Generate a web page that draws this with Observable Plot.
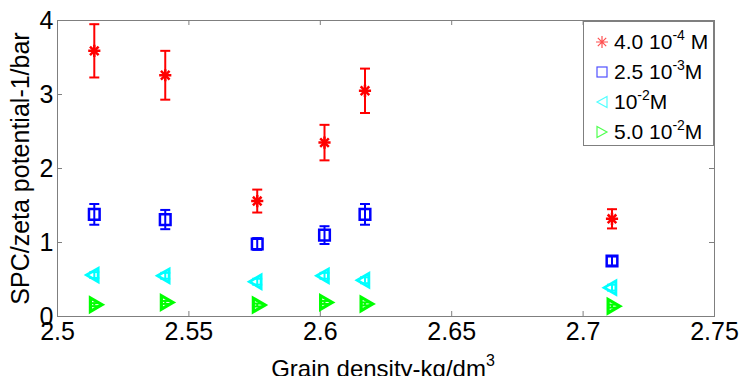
<!DOCTYPE html>
<html>
<head>
<meta charset="utf-8">
<script src="https://cdn.jsdelivr.net/npm/d3@7"></script>
<script src="https://cdn.jsdelivr.net/npm/@observablehq/plot@0.6"></script>
<style>
  html, body { margin: 0; padding: 0; background: #fff; }
  #wrap { position: relative; width: 740px; height: 376px; overflow: hidden; font-family: "Liberation Sans", Arial, sans-serif; }
  #legend { position: absolute; left: 583px; top: 21px; width: 129px; height: 123px; border: 1px solid #7f7f7f; background: #fff; }
  .row { position: absolute; left: 0; height: 24px; display: flex; align-items: center; font-size: 21px; color: #000; white-space: nowrap; }
  .row svg { margin-left: 11px; margin-right: 5px; }
  sup { font-size: 14px; vertical-align: 9px; line-height: 0; }
  #xlabel { position: absolute; left: 0; width: 766px; top: 355px; text-align: center; font-size: 24px; color: #000; white-space: nowrap; }
  #xlabel sup { font-size: 16px; vertical-align: 11px; }
</style>
</head>
<body>
<div id="wrap"></div>
<script>
// ---- data ----
const density = [2.514, 2.541, 2.576, 2.6016, 2.617, 2.711];
const spc4e4 = [3.59, 3.26, 1.56, 2.35, 3.05, 1.32];
const err4e4 = [0.36, 0.33, 0.155, 0.24, 0.30, 0.13];
const spc25e3 = [1.38, 1.31, 0.98, 1.10, 1.38, 0.75];
const err25e3 = [0.14, 0.13, 0.08, 0.12, 0.14, 0.06];
const spc1e2 = [0.56, 0.55, 0.47, 0.55, 0.49, 0.39];
const err1e2 = [0.04, 0.04, 0.04, 0.04, 0.04, 0.04];
const spc5e2 = [0.16, 0.19, 0.155, 0.19, 0.17, 0.14];
const err5e2 = [0.02, 0.02, 0.02, 0.02, 0.02, 0.02];
const xTicks = [2.5, 2.55, 2.6, 2.65, 2.7, 2.75];
const yTicks = [0, 1, 2, 3, 4];
const seriesNames = ["4.0 10-4 M", "2.5 10-3M", "10-2M", "5.0 10-2M"];

const colors = ["#ff0000", "#0000ff", "#00ffff", "#00ff00"];
const allVals = [spc4e4, spc25e3, spc1e2, spc5e2];
const allErrs = [err4e4, err25e3, err1e2, err5e2];
const rows = [];
allVals.forEach((vals, s) => vals.forEach((v, i) => rows.push({s, x: density[i], y: v, lo: v - allErrs[s][i], hi: v + allErrs[s][i]})));

const cap = { draw(ctx) { ctx.moveTo(-5, 0); ctx.lineTo(5, 0); } };
const xDom = [2.5, 2.75], yDom = [0, 4];
const tx = (xDom[1] - xDom[0]) * 5 / 657, ty = (yDom[1] - yDom[0]) * 5 / 296;

const bySeries = s => rows.filter(d => d.s === s);

const marks = [
  Plot.frame({stroke: "#7f7f7f"}),
  Plot.ruleX(xTicks, {x: d => d, y1: yDom[0], y2: yDom[0] + ty, stroke: "#7f7f7f"}),
  Plot.ruleX(xTicks, {x: d => d, y1: yDom[1] - ty, y2: yDom[1], stroke: "#7f7f7f"}),
  Plot.ruleY(yTicks, {y: d => d, x1: xDom[0], x2: xDom[0] + tx, stroke: "#7f7f7f"}),
  Plot.ruleY(yTicks, {y: d => d, x1: xDom[1] - tx, x2: xDom[1], stroke: "#7f7f7f"}),
  Plot.axisX(xTicks, {anchor: "bottom", tickSize: 0, tickPadding: 6, label: null, tickFormat: d => String(d)}),
  Plot.axisY(yTicks, {anchor: "left", tickSize: 0, tickPadding: 4, label: "SPC/zeta potential-1/bar", labelAnchor: "center", labelOffset: 46, labelArrow: "none", tickFormat: d => String(d)})
];
[0, 1, 2, 3].forEach(s => {
  const data = bySeries(s);
  marks.push(Plot.ruleX(data, {x: "x", y1: "lo", y2: "hi", stroke: colors[s], strokeWidth: 2}));
  marks.push(Plot.dot(data, {x: "x", y: "lo", symbol: cap, stroke: colors[s], strokeWidth: 2}));
  marks.push(Plot.dot(data, {x: "x", y: "hi", symbol: cap, stroke: colors[s], strokeWidth: 2}));
});
// markers
marks.push(Plot.dot(bySeries(0), {x: "x", y: "y", symbol: "plus", r: 4, stroke: colors[0], strokeWidth: 2.5}));
marks.push(Plot.dot(bySeries(0), {x: "x", y: "y", symbol: "times", r: 4, stroke: colors[0], strokeWidth: 2.5}));
marks.push(Plot.dot(bySeries(1), {x: "x", y: "y", symbol: "square", r: 6, stroke: colors[1], strokeWidth: 2.5, fill: "none"}));
marks.push(Plot.dot(bySeries(2), {x: "x", y: "y", symbol: "triangle", r: 5, rotate: -90, stroke: colors[2], strokeWidth: 2.8, fill: "none"}));
marks.push(Plot.dot(bySeries(3), {x: "x", y: "y", symbol: "triangle", r: 5, rotate: 90, stroke: colors[3], strokeWidth: 3.2, fill: "none"}));

const chart = Plot.plot({
  width: 740, height: 376,
  marginLeft: 57, marginRight: 26, marginTop: 20, marginBottom: 60,
  x: {domain: xDom},
  y: {domain: yDom},
  style: {fontFamily: "'Liberation Sans', Arial, sans-serif", fontSize: "25px", color: "#000", background: "#fff", overflow: "visible"},
  marks
});
const wrap = document.getElementById("wrap");
wrap.appendChild(chart);

// x label
const xl = document.createElement("div");
xl.id = "xlabel";
xl.innerHTML = "Grain density-kg/dm<sup>3</sup>";
wrap.appendChild(xl);

// legend
const legend = document.createElement("div");
legend.id = "legend";
const icons = [
  '<path d="M7,1V13M1,7H13M2.8,2.8L11.2,11.2M11.2,2.8L2.8,11.2" stroke="#ff5050" stroke-width="1.2" fill="none"/>',
  '<rect x="2" y="2" width="10" height="10" stroke="#5050ff" stroke-width="1.2" fill="none"/>',
  '<path d="M2,7L12,1.5V12.5Z" stroke="#50ffff" stroke-width="1.2" fill="none"/>',
  '<path d="M12,7L2,1.5V12.5Z" stroke="#50ff50" stroke-width="1.2" fill="none"/>'
];
seriesNames.forEach((name, i) => {
  const r = document.createElement("div");
  r.className = "row";
  r.style.top = (8 + i * 30) + "px";
  const m = name.match(/^(.*?10)(-\d)(.*)$/);
  r.innerHTML = '<svg width="14" height="14" viewBox="0 0 14 14">' + icons[i] + '</svg><span>' + m[1] + '<sup>' + m[2] + '</sup>' + m[3] + '</span>';
  legend.appendChild(r);
});
wrap.appendChild(legend);
</script>
</body>
</html>
